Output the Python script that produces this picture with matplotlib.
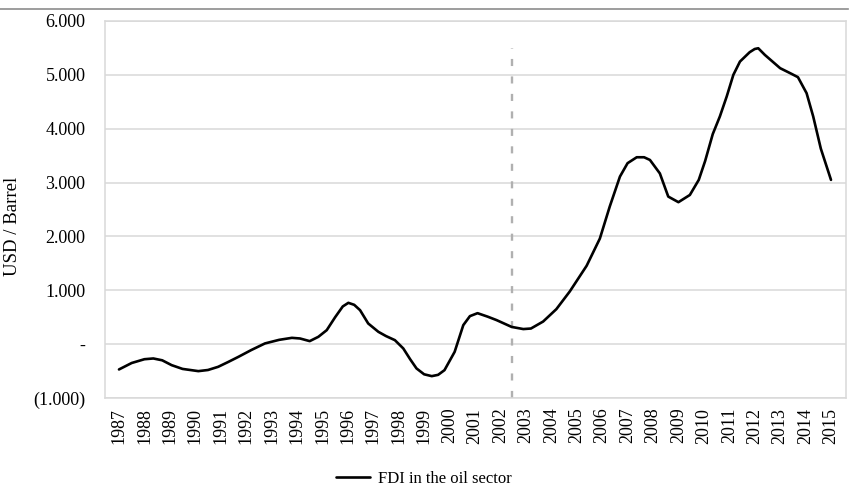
import matplotlib
matplotlib.use("Agg")
import matplotlib.pyplot as plt
from matplotlib.lines import Line2D

# ---- data ----
years = [1987.0, 1987.5, 1988.0, 1988.35, 1988.7, 1989.07, 1989.5, 1990.12, 1990.5, 1990.9,
         1991.3, 1991.7, 1992.2, 1992.74, 1993.3, 1993.8, 1994.12, 1994.5, 1994.84, 1995.17,
         1995.5, 1995.8, 1996.02, 1996.25, 1996.48, 1996.8, 1997.2, 1997.5, 1997.85, 1998.18,
         1998.45, 1998.7, 1999.0, 1999.3, 1999.55, 1999.8, 2000.2, 2000.54, 2000.8, 2001.1,
         2001.5, 2001.85, 2002.44, 2002.9, 2003.2, 2003.68, 2004.2, 2004.73, 2005.39, 2005.91,
         2006.3, 2006.7, 2007.0, 2007.36, 2007.65, 2007.88, 2008.27, 2008.6, 2009.0, 2009.45,
         2009.8, 2010.05, 2010.35, 2010.63, 2010.9, 2011.16, 2011.42, 2011.8, 2012.0, 2012.14,
         2012.4, 2013.0, 2013.45, 2013.7, 2014.04, 2014.3, 2014.6, 2015.0]
fdi = [-470, -350, -280, -266, -300, -390, -460, -501, -480, -421,
       -330, -235, -110, 13, 80, 117, 105, 56, 136, 260,
       500, 700, 767, 730, 631, 384, 229, 150, 74, -80,
       -280, -451, -560, -594, -570, -483, -143, 353, 520, 575,
       510, 446, 320, 280, 290, 420, 650, 980, 1455, 1960,
       2556, 3111, 3360, 3470, 3470, 3420, 3170, 2740, 2636, 2770,
       3050, 3400, 3900, 4228, 4600, 5000, 5247, 5420, 5480, 5494,
       5370, 5124, 5018, 4957, 4660, 4228, 3630, 3050]

tick_years = list(range(1987, 2016))
tick_labels = [str(y) for y in tick_years]
y_ticks = [-1000, 0, 1000, 2000, 3000, 4000, 5000, 6000]
y_labels = ["(1.000)", "-", "1.000", "2.000", "3.000", "4.000", "5.000", "6.000"]
divider_year = 2002.47
divider_range = [-1000, 5500]
series_name = "FDI in the oil sector"
y_title = "USD / Barrel"

# ---- figure ----
plt.rcParams['font.family'] = ['Liberation Serif', 'DejaVu Serif']
fig = plt.figure(figsize=(8.5, 4.93), dpi=100)
ax = fig.add_axes([105/850, 1-398/493, (846-105)/850, (398-21)/493])

ax.set_axisbelow(True)
ax.grid(axis='y', color='#d9d9d9', linewidth=1.1)
ax.grid(axis='x', visible=False)
for s in ax.spines.values():
    s.set_color('#d9d9d9')
    s.set_linewidth(1.1)

ax.plot([divider_year, divider_year], divider_range, color='#b0b0b0',
        linewidth=1.7, linestyle=(0, (3.0, 4.4)), zorder=2)
line, = ax.plot(years, fdi, color='black', linewidth=1.9, solid_joinstyle='round',
                solid_capstyle='round', zorder=3)

ax.set_xlim(1986.45, 2015.59)
ax.set_ylim(-1000, 6000)
ax.set_xticks(tick_years)
ax.set_xticklabels(tick_labels, rotation=90, fontsize=13)
ax.set_yticks(y_ticks)
ax.set_yticklabels(y_labels, fontsize=13)
ax.tick_params(axis='both', length=0)
ax.tick_params(axis='y', pad=14)
ax.tick_params(axis='x', pad=7)

fig.text(13/850, 1-226/493, y_title, rotation=90, ha='center', va='center', fontsize=13.5)

fig.legend([line], [series_name], loc='center', bbox_to_anchor=(424/850, 1-479/493),
           frameon=False, fontsize=12, handlelength=2.0, handletextpad=0.5)

fig.add_artist(Line2D([0, 848/850], [1-9/493, 1-9/493], transform=fig.transFigure,
                      color='#8c8c8c', linewidth=1.2))

fig.savefig("out.png", dpi=100)
